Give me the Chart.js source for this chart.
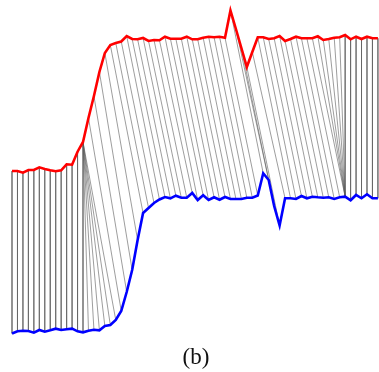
<!DOCTYPE html>
<html>
<head>
<meta charset="utf-8">
<script src="https://cdn.jsdelivr.net/npm/chart.js@4/dist/chart.umd.min.js"></script>
<style>
  body { margin: 0; background: #fff; }
  #wrap { position: relative; width: 379px; height: 372px; }
  #caption {
    position: absolute; left: 0; width: 392px; top: 345px;
    text-align: center; font-family: "Liberation Serif", serif;
    font-size: 23px; line-height: 23px; color: #111;
  }
</style>
</head>
<body>
<div id="wrap">
  <canvas id="myChart" width="379" height="372"></canvas>
  <div id="caption">(b)</div>
</div>
<script>
// upper series (red), one value per time step
let redY = [169, 169, 167.3, 170, 170, 172.7, 171, 169.7, 168.7, 169.7,
  175.7, 175.3, 188.3, 198, 222, 244, 268, 287, 295, 297,
  298.5, 304, 301, 300.7, 302, 299, 300, 299.7, 303.3, 301.3,
  301.3, 301.3, 303.3, 300.7, 300.7, 302.3, 303.3, 302.7, 303.3, 302.3,
  329.5, 311, 292, 273, 288, 302.7, 302.7, 301, 301.7, 304,
  299, 301, 303.3, 301.7, 301.7, 301.7, 303.7, 300, 301, 302.3,
  302.7, 305, 300.7, 303.3, 301, 303.3, 301.7, 301.7]

// lower series (blue)
let blueY = [6.5, 8.7, 9.3, 9, 7.3, 10, 8.3, 9.7, 11.3, 10,
  10.7, 11.3, 8.7, 7.7, 9.3, 10.3, 9.7, 14, 15, 20,
  29, 48, 70, 100, 127, 132, 137, 140.5, 143, 141.7,
  144.3, 142.3, 142.3, 147, 140, 144.7, 140, 142.7, 140.3, 143,
  141, 141, 141, 142.3, 142.3, 144.5, 166.7, 160, 134, 114.5,
  141.7, 141.7, 141, 144, 141.7, 143.3, 142.7, 142.3, 142.7, 141,
  142.7, 143.3, 139.7, 145, 141.7, 145.7, 141.7, 141.7]

// warping path: red index -> blue index
let pathRed = [0, 1, 2, 3, 4, 5, 6, 7, 8, 9, 10, 11, 12,
  13, 13, 13, 13, 13, 13, 13,
  14, 15, 16, 17, 18, 19, 20, 21, 22, 23, 24, 25, 26, 27, 28, 29, 30, 31, 32, 33, 34,
  35, 36, 37, 38, 39, 40, 41, 42, 43, 44, 45, 46, 47, 48, 49, 50, 51, 52, 53, 54, 55,
  56, 57, 58, 59, 60, 61,
  62, 63, 64, 65, 66, 67]
let pathBlue = [0, 1, 2, 3, 4, 5, 6, 7, 8, 9, 10, 11, 12,
  13, 14, 15, 16, 17, 18, 19,
  20, 21, 22, 23, 24, 25, 26, 27, 28, 29, 30, 31, 32, 33, 34, 35, 36, 37, 38, 39, 40,
  41, 42, 43, 44, 45, 46, 47, 48, 49, 50, 51, 52, 53, 54, 55, 56, 57, 58, 59, 60, 61,
  61, 61, 61, 61, 61, 61,
  62, 63, 64, 65, 66, 67]

let links = []
pathRed.forEach((i, k) => {
  let j = pathBlue[k]
  links.push({x: i, y: redY[i]}, {x: j, y: blueY[j]}, {x: j, y: null})
})

let ctx = document.getElementById("myChart").getContext("2d")

let myChart = new Chart(ctx, {
  type: "line",
  data: {
    datasets: [
      {
        data: links,
        borderColor: "rgba(90,90,90,0.75)",
        borderWidth: 0.8,
        spanGaps: false,
        order: 3,
      },
      {
        data: redY.map((v, i) => ({x: i, y: v})),
        borderColor: "#ff0000",
        borderWidth: 2.6,
        order: 1,
      },
      {
        data: blueY.map((v, i) => ({x: i, y: v})),
        borderColor: "#0000ff",
        borderWidth: 2.6,
        order: 1,
      },
    ],
  },
  options: {
    responsive: false,
    animation: false,
    layout: { padding: { bottom: 32 } },
    elements: { point: { radius: 0 }, line: { tension: 0 } },
    plugins: { legend: { display: false }, tooltip: { enabled: false } },
    scales: {
      x: { type: "linear", min: -2.2, max: 67.2, display: false },
      y: { min: 0, max: 340, display: false },
    },
  },
})
</script>
</body>
</html>
